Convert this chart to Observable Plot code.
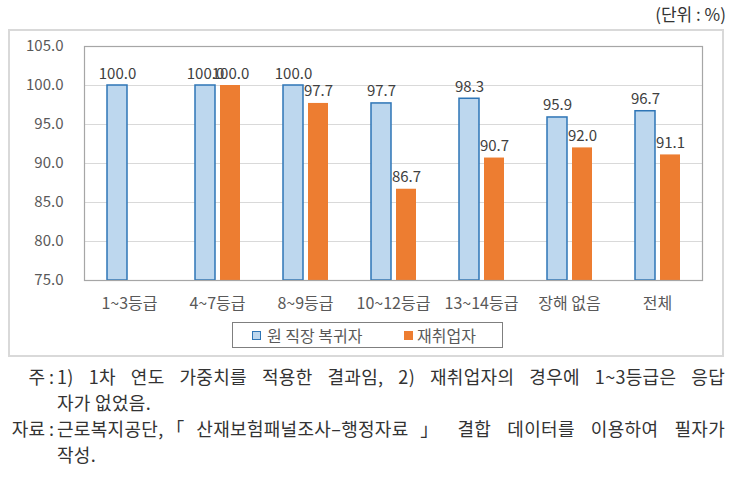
<!DOCTYPE html>
<html>
<head>
<meta charset="utf-8">
<script src="https://cdn.jsdelivr.net/npm/d3@7"></script>
<script src="https://cdn.jsdelivr.net/npm/@observablehq/plot@0.6"></script>
<style>
  html, body { margin: 0; padding: 0; background: #fff; }
  #page { position: relative; width: 731px; height: 486px; overflow: hidden; font-family: 'Noto Sans CJK KR', sans-serif; }
  #unit { position: absolute; right: 5px; top: 1px; font-size: 17px; color: #333; }
  #box { position: absolute; left: 8px; top: 29px; width: 712px; height: 324px; border: 2.5px solid #d9d9d9; }
  #chart { position: absolute; left: 0; top: 30px; }
  #legend { position: absolute; left: 232px; top: 322px; width: 269px; height: 24px; border: 1px solid #7f7f7f; font-size: 16px; color: #595959; }
  #legend .sw { position: absolute; top: 8px; width: 7px; height: 7px; }
  #legend .lb { position: absolute; top: 0; line-height: 24px; white-space: nowrap; }
  .fn { position: absolute; font-size: 18px; color: #333; line-height: 26px; white-space: nowrap; letter-spacing: 0.3px; font-feature-settings: "halt"; }
  .lab { left: 0; width: 54px; text-align: right; letter-spacing: 0; }
  .txt { left: 57px; }
  .just { width: 668px; text-align: justify; text-align-last: justify; }
</style>
</head>
<body>
<div id="page">
  <div id="unit">(단위 : %)</div>
  <div id="box"></div>
  <div id="chart"></div>
  <div id="legend"></div>
  <div id="foot"></div>
</div>
<script>
const categories = ["1~3등급", "4~7등급", "8~9등급", "10~12등급", "13~14등급", "장해 없음", "전체"];
const seriesNames = ["원 직장 복귀자", "재취업자"];
const originalJob = [100.0, 100.0, 100.0, 97.7, 98.3, 95.9, 96.7];
const reemployed = [null, 100.0, 97.7, 86.7, 90.7, 92.0, 91.1];
const yTicks = [75, 80, 85, 90, 95, 100, 105];
const gridValues = [80, 85, 90, 95, 100];
const noteLines = [
  ["주 :", "1) 1차 연도 가중치를 적용한 결과임, 2) 재취업자의 경우에 1~3등급은 응답", true],
  ["", "자가 없었음.", false],
  ["자료 :", "근로복지공단,「산재보험패널조사–행정자료」 결합 데이터를 이용하여 필자가", true],
  ["", "작성.", false]
];

const blueFill = "#BDD7EE", blueStroke = "#2E75B6", orange = "#ED7D31";

const rowsA = categories.map((c, i) => ({cat: c, v: originalJob[i]}));
const rowsB = categories.map((c, i) => ({cat: c, v: reemployed[i]})).filter(d => d.v != null);

const chart = Plot.plot({
  width: 731,
  height: 285,
  marginLeft: 84,
  marginRight: 29,
  marginTop: 16,
  marginBottom: 35,
  style: {fontFamily: "'Noto Sans CJK KR', sans-serif", fontSize: "15px", color: "#595959", background: "transparent"},
  x: {domain: categories, padding: 0, label: null},
  y: {domain: [75, 105], label: null},
  marks: [
    Plot.ruleY(gridValues, {stroke: "#d9d9d9", strokeWidth: 1}),
    Plot.barY(rowsA, {x: "cat", y1: 75, y2: "v", fill: blueFill, stroke: blueStroke, strokeWidth: 1.5, insetLeft: 22, insetRight: 46}),
    Plot.barY(rowsB, {x: "cat", y1: 75, y2: "v", fill: orange, insetLeft: 47, insetRight: 21}),
    Plot.text(rowsA, {x: "cat", y: "v", text: d => d.v.toFixed(1), dx: -12, dy: -7, lineAnchor: "bottom", fill: "#404040", fontSize: 15}),
    Plot.text(rowsB, {x: "cat", y: "v", text: d => d.v.toFixed(1), dx: 13, dy: -7, lineAnchor: "bottom", fill: "#404040", fontSize: 15}),
    Plot.frame({stroke: "#a6a6a6", strokeWidth: 1.2}),
    Plot.axisY(yTicks, {tickSize: 0, tickPadding: 21, tickFormat: d => d.toFixed(1), fontSize: 15, fill: "#595959"}),
    Plot.axisX({tickSize: 0, tickPadding: 17, fontSize: 16, fill: "#595959"})
  ]
});
document.getElementById("chart").appendChild(chart);

// legend
const legend = document.getElementById("legend");
const swPos = [19, 171], lbPos = [34, 184];
seriesNames.forEach((name, i) => {
  const sw = document.createElement("div");
  sw.className = "sw";
  sw.style.left = swPos[i] + "px";
  sw.style.background = i === 0 ? blueFill : orange;
  sw.style.border = "1px solid " + (i === 0 ? blueStroke : orange);
  legend.appendChild(sw);
  const lb = document.createElement("div");
  lb.className = "lb";
  lb.style.left = lbPos[i] + "px";
  lb.textContent = name;
  legend.appendChild(lb);
});

// footnotes
const foot = document.getElementById("foot");
noteLines.forEach((ln, i) => {
  const top = 363 + i * 26;
  if (ln[0]) {
    const a = document.createElement("div");
    a.className = "fn lab";
    a.style.top = top + "px";
    a.textContent = ln[0];
    foot.appendChild(a);
  }
  const b = document.createElement("div");
  b.className = "fn txt" + (ln[2] ? " just" : "");
  b.style.top = top + "px";
  b.textContent = ln[1];
  foot.appendChild(b);
});
</script>
</body>
</html>
